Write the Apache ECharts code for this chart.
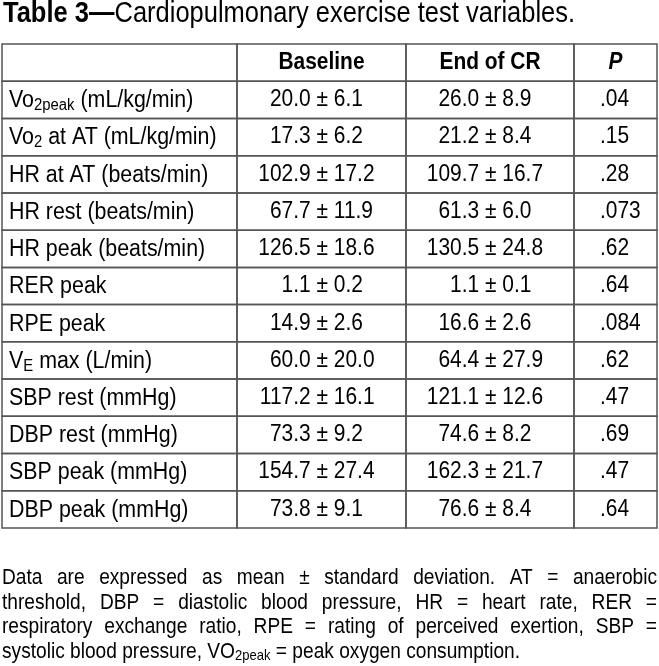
<!DOCTYPE html>
<html><head><meta charset="utf-8">
<script src="https://cdn.jsdelivr.net/npm/echarts@6/dist/echarts.min.js"></script>
<style>html,body{margin:0;padding:0;background:#fff}#c{width:659px;height:666px}</style>
</head><body><div id="c"></div>
<script>
// ---- data ----
const titleBold = 'Table 3\u2014';
const titleText = 'Cardiopulmonary exercise test variables.';
const columnHeaders = ['', 'Baseline', 'End of CR', 'P'];
const variables = [
  '{n|Vo}{s|2peak}{n| (mL/kg/min)}',
  '{n|Vo}{s|2}{n| at AT (mL/kg/min)}',
  '{n|HR at AT (beats/min)}',
  '{n|HR rest (beats/min)}',
  '{n|HR peak (beats/min)}',
  '{n|RER peak}',
  '{n|RPE peak}',
  '{n|V}{s|E}{n| max (L/min)}',
  '{n|SBP rest (mmHg)}',
  '{n|DBP rest (mmHg)}',
  '{n|SBP peak (mmHg)}',
  '{n|DBP peak (mmHg)}'
];
const baselineMean = ['20.0', '17.3', '102.9', '67.7', '126.5', '1.1', '14.9', '60.0', '117.2', '73.3', '154.7', '73.8'];
const baselineSD   = ['6.1', '6.2', '17.2', '11.9', '18.6', '0.2', '2.6', '20.0', '16.1', '9.2', '27.4', '9.1'];
const endMean      = ['26.0', '21.2', '109.7', '61.3', '130.5', '1.1', '16.6', '64.4', '121.1', '74.6', '162.3', '76.6'];
const endSD        = ['8.9', '8.4', '16.7', '6.0', '24.8', '0.1', '2.6', '27.9', '12.6', '8.2', '21.7', '8.4'];
const pValues      = ['.04', '.15', '.28', '.073', '.62', '.64', '.084', '.62', '.47', '.69', '.47', '.64'];
const footnoteLines = [
  'Data are expressed as mean \u00b1 standard deviation. AT = anaerobic',
  'threshold, DBP = diastolic blood pressure, HR = heart rate, RER =',
  'respiratory exchange ratio, RPE = rating of perceived exertion, SBP =',
  'systolic blood pressure, VO_2peak = peak oxygen consumption.'
];

// ---- layout / style ----
const FONT = '"Liberation Sans", Arial, Helvetica, sans-serif';
const colEdges = [0, 235, 404, 572, 655];
const BODY = 23, SUB = 16, SX = 0.91;
const LINE = '#555';
const INK = '#000';

const rowNames = ['header'].concat(variables.map((v, i) => 'r' + i));
const cells = [];
for (let r = 0; r < rowNames.length; r++) {
  for (let c = 0; c < 4; c++) cells.push({ value: [c, r], c: c, r: r });
}

const rich = {
  n: { fontSize: BODY, fontFamily: FONT, fill: INK, lineHeight: 26, verticalAlign: 'middle' },
  s: { fontSize: SUB, fontFamily: FONT, fill: INK, lineHeight: 12, verticalAlign: 'bottom' }
};

function txt(x, y, text, align) {
  return {
    type: 'text', x: x, y: y, scaleX: SX,
    style: { text: text, fontSize: BODY, fontFamily: FONT, fill: INK, align: align, verticalAlign: 'middle' }
  };
}

function renderItem(params, api) {
  const cell = cells[params.dataIndex];
  const c = cell.c, r = cell.r;
  const xL = api.coord([colEdges[c], r])[0];
  const xR = api.coord([colEdges[c + 1], r])[0];
  const yc = api.coord([0, r])[1];
  const h = api.size([0, 1])[1];
  const children = [{
    type: 'rect', shape: { x: xL, y: yc - h / 2, width: xR - xL, height: h },
    style: { fill: 'none', stroke: LINE, lineWidth: 1.5 }
  }];
  const xc = (xL + xR) / 2;
  if (r === 0) {
    if (c > 0) {
      const t = txt(xc, yc, columnHeaders[c], 'center');
      t.style.fontWeight = 'bold';
      if (c === 3) t.style.fontStyle = 'italic';
      children.push(t);
    }
  } else {
    const i = r - 1;
    if (c === 0) {
      children.push({ type: 'text', x: xL + 7, y: yc + 1, scaleX: SX + 0.02,
        style: { text: variables[i], rich: rich, align: 'left', verticalAlign: 'middle', fontFamily: FONT, fontSize: BODY } });
    } else if (c === 1 || c === 2) {
      const mean = c === 1 ? baselineMean[i] : endMean[i];
      const sd = c === 1 ? baselineSD[i] : endSD[i];
      const ax = xc + 1 - 6;
      children.push(txt(ax, yc, mean + ' ', 'right'));
      children.push(txt(ax, yc, '\u00b1 ' + sd, 'left'));
    } else {
      children.push(txt(xL + 26, yc, pValues[i], 'left'));
    }
  }
  return { type: 'group', children: children };
}

// ---- footnote layout (justified words) ----
const mctx = document.createElement('canvas').getContext('2d');
function tw(str, size) { mctx.font = size + 'px "Liberation Sans"'; return mctx.measureText(str).width; }
const FN = 22, FNS = 15, FSX = 0.87, FN_LEFT = 2, FN_RIGHT = 657;
const fnY = [578, 602.5, 627, 651.5];
const graphics = [];
graphics.push({
  type: 'text', x: 3, y: 13.5, scaleX: 0.85,
  style: {
    text: '{b|' + titleBold + '}{r|' + titleText + '}', verticalAlign: 'middle', align: 'left',
    rich: {
      b: { fontSize: 30, fontWeight: 'bold', fontFamily: FONT, fill: INK },
      r: { fontSize: 30, fontFamily: FONT, fill: INK }
    }
  }
});
footnoteLines.forEach(function (line, li) {
  const words = line.split(' ').map(function (w) {
    if (w.indexOf('_') >= 0) {
      const parts = w.split('_');
      const sub = parts[1].replace(/[^0-9a-z]+$/, '');
      return { rich: '{n|' + parts[0] + '}{s|' + sub + '}', w: (tw(parts[0], FN) + tw(sub, FNS)) * FSX };
    }
    return { text: w, w: tw(w, FN) * FSX };
  });
  const total = words.reduce(function (a, b) { return a + b.w; }, 0);
  const justify = li < footnoteLines.length - 1;
  const gap = justify ? (FN_RIGHT - FN_LEFT - total) / (words.length - 1) : tw(' ', FN) * FSX;
  let x = FN_LEFT;
  words.forEach(function (wd) {
    const el = { type: 'text', x: x, y: fnY[li], scaleX: FSX,
      style: { fontSize: FN, fontFamily: FONT, fill: INK, align: 'left', verticalAlign: 'middle' } };
    if (wd.rich) {
      el.style.text = wd.rich;
      el.style.rich = {
        n: { fontSize: FN, fontFamily: FONT, fill: INK, lineHeight: 24, verticalAlign: 'middle' },
        s: { fontSize: FNS, fontFamily: FONT, fill: INK, lineHeight: 10, verticalAlign: 'bottom' }
      };
    } else {
      el.style.text = wd.text;
    }
    graphics.push(el);
    x += wd.w + gap;
  });
});

const chart = echarts.init(document.getElementById('c'));
chart.setOption({
  animation: false,
  backgroundColor: '#fff',
  grid: { left: 2, top: 44, width: 655, height: 484 },
  xAxis: { type: 'value', min: 0, max: 655, show: false },
  yAxis: { type: 'category', data: rowNames, inverse: true, show: false },
  series: [{ type: 'custom', renderItem: renderItem, data: cells, clip: false, silent: true }],
  graphic: graphics
});
</script></body></html>
